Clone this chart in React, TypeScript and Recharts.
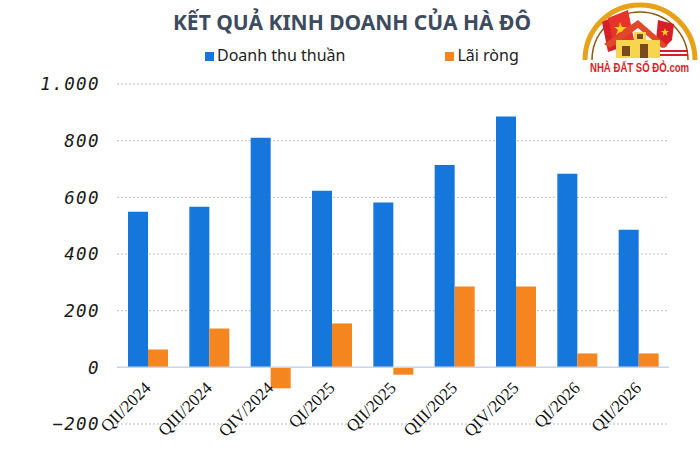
import React from "react"
import { BarChart, Bar, XAxis, YAxis, CartesianGrid, ReferenceLine } from "recharts"

const quarters = ["QII/2024", "QIII/2024", "QIV/2024", "QI/2025", "QII/2025", "QIII/2025", "QIV/2025", "QI/2026", "QII/2026"]
const revenue = [549, 567, 810, 623, 582, 714, 885, 683, 486]
const netProfit = [63, 137, -74, 155, -26, 285, 285, 49, 49]
const yTicks = [-200, 0, 200, 400, 600, 800, 1000]

const BLUE = "#1576dc"
const ORANGE = "#f5861f"

const data = quarters.map((q, i) => ({ q, revenue: revenue[i], profit: netProfit[i] }))

const fmt = (v: number) => {
  const s = Math.abs(v).toString().replace(/\B(?=(\d{3})+(?!\d))/g, ".")
  return v < 0 ? "\u2212" + s : s
}

const YTick = ({ x, y, payload }: any) => (
  <text
    x={x - 15}
    y={y}
    dy="0.36em"
    textAnchor="end"
    fill="#1a1a1a"
    style={{ fontFamily: "'DejaVu Sans Mono'", fontStyle: "italic", fontSize: 17.5, letterSpacing: 1.4 }}
  >
    {fmt(payload.value)}
  </text>
)

// labels sit just under the zero line, not under the plot bottom
const XTick = ({ x, y, payload }: any) => (
  <text
    x={x + 4}
    y={y - 37}
    textAnchor="end"
    transform={`rotate(-45 ${x + 4} ${y - 37})`}
    fill="#111"
    style={{ fontFamily: "'Liberation Serif'", fontSize: 17 }}
  >
    {payload.value}
  </text>
)

const Logo = () => (
  <svg width={122} height={80} style={{ position: "absolute", left: 578, top: 0 }}>
    <path d="M 7 60 A 55 55 0 0 1 117 60" fill="none" stroke="#e7a21a" strokeWidth={5} />
    <path d="M 14 60 A 48 48 0 0 1 110 60" fill="none" stroke="#8c5a10" strokeWidth={1.5} />
    <polygon points="24,22 46,12 54,44 30,52" fill="#d61f26" />
    <polygon points="30,18 50,10 56,40 36,46" fill="#e8332a" />
    <polygon points="42,22 44,27 49,27 45,30 47,35 42,32 38,35 40,30 36,27 41,27" fill="#ffd21f" />
    <path d="M 80 20 L 96 24 L 94 40 L 86 48 L 78 40 Z" fill="#d61f26" />
    <polygon points="87,28 88,31 91,31 88.5,33 89.5,36 87,34 84.5,36 85.5,33 83,31 86,31" fill="#ffd21f" />
    <polygon points="26,44 60,20 90,46 84,48 60,28 32,48" fill="#e0482a" />
    <rect x={38} y={40} width={44} height={18} fill="#f7d54e" />
    <rect x={56} y={32} width={12} height={10} fill="#f7d54e" />
    <rect x={44} y={46} width={8} height={10} fill="#7a4a1e" />
    <rect x={62} y={44} width={8} height={14} fill="#7a4a1e" />
    <rect x={59} y={34} width={6} height={5} fill="#7a4a1e" />
    <line x1={82} y1={51} x2={110} y2={51} stroke="#d61f26" strokeWidth={2} />
    <line x1={82} y1={55} x2={110} y2={55} stroke="#d61f26" strokeWidth={2} />
    <rect x={6} y={60} width={116} height={18} fill="#ffffff" />
    <g transform="translate(12 72) scale(0.8 1)">
      <text x={0} y={0} fill="#d81e26" style={{ fontFamily: "'Liberation Sans'", fontWeight: 700, fontSize: 12 }}>
        NHÀ ĐẤT SỔ ĐỎ.com
      </text>
    </g>
  </svg>
)

export default function App() {
  return (
    <div style={{ position: "fixed", left: 0, top: 0, width: 700, height: 462, background: "#fff" }}>
      <div
        style={{
          position: "absolute",
          left: 0,
          top: 8,
          width: 704,
          textAlign: "center",
          fontFamily: "'Noto Sans'",
          fontWeight: 700,
          fontSize: 21,
          color: "#3d4b5f",
          lineHeight: "28px",
        }}
      >
        KẾT QUẢ KINH DOANH CỦA HÀ ĐÔ
      </div>
      <div style={{ position: "absolute", left: 205, top: 44, fontFamily: "'Noto Sans'", fontSize: 16, color: "#222", lineHeight: "22px", whiteSpace: "nowrap" }}>
        <span style={{ display: "inline-block", width: 9, height: 9, background: BLUE, marginRight: 3 }} />
        Doanh thu thuần
        <span style={{ display: "inline-block", width: 9, height: 9, background: ORANGE, marginLeft: 100, marginRight: 3 }} />
        Lãi ròng
      </div>
      <Logo />
      <BarChart width={700} height={462} data={data} margin={{ top: 84, right: 31, bottom: 0, left: 0 }} barGap={0} barSize={20}>
        <CartesianGrid vertical={false} stroke="#bdbdbd" strokeDasharray="2 2" />
        <XAxis dataKey="q" height={38} axisLine={false} tickLine={false} tickSize={0} tick={<XTick />} interval={0} />
        <YAxis
          width={117}
          domain={[-200, 1000]}
          ticks={yTicks}
          axisLine={false}
          tickLine={false}
          tickSize={0}
          tick={<YTick />}
        />
        <ReferenceLine y={0} stroke="#ccd6eb" strokeWidth={1.5} />
        <Bar dataKey="revenue" fill={BLUE} isAnimationActive={false} />
        <Bar dataKey="profit" fill={ORANGE} isAnimationActive={false} />
      </BarChart>
    </div>
  )
}
